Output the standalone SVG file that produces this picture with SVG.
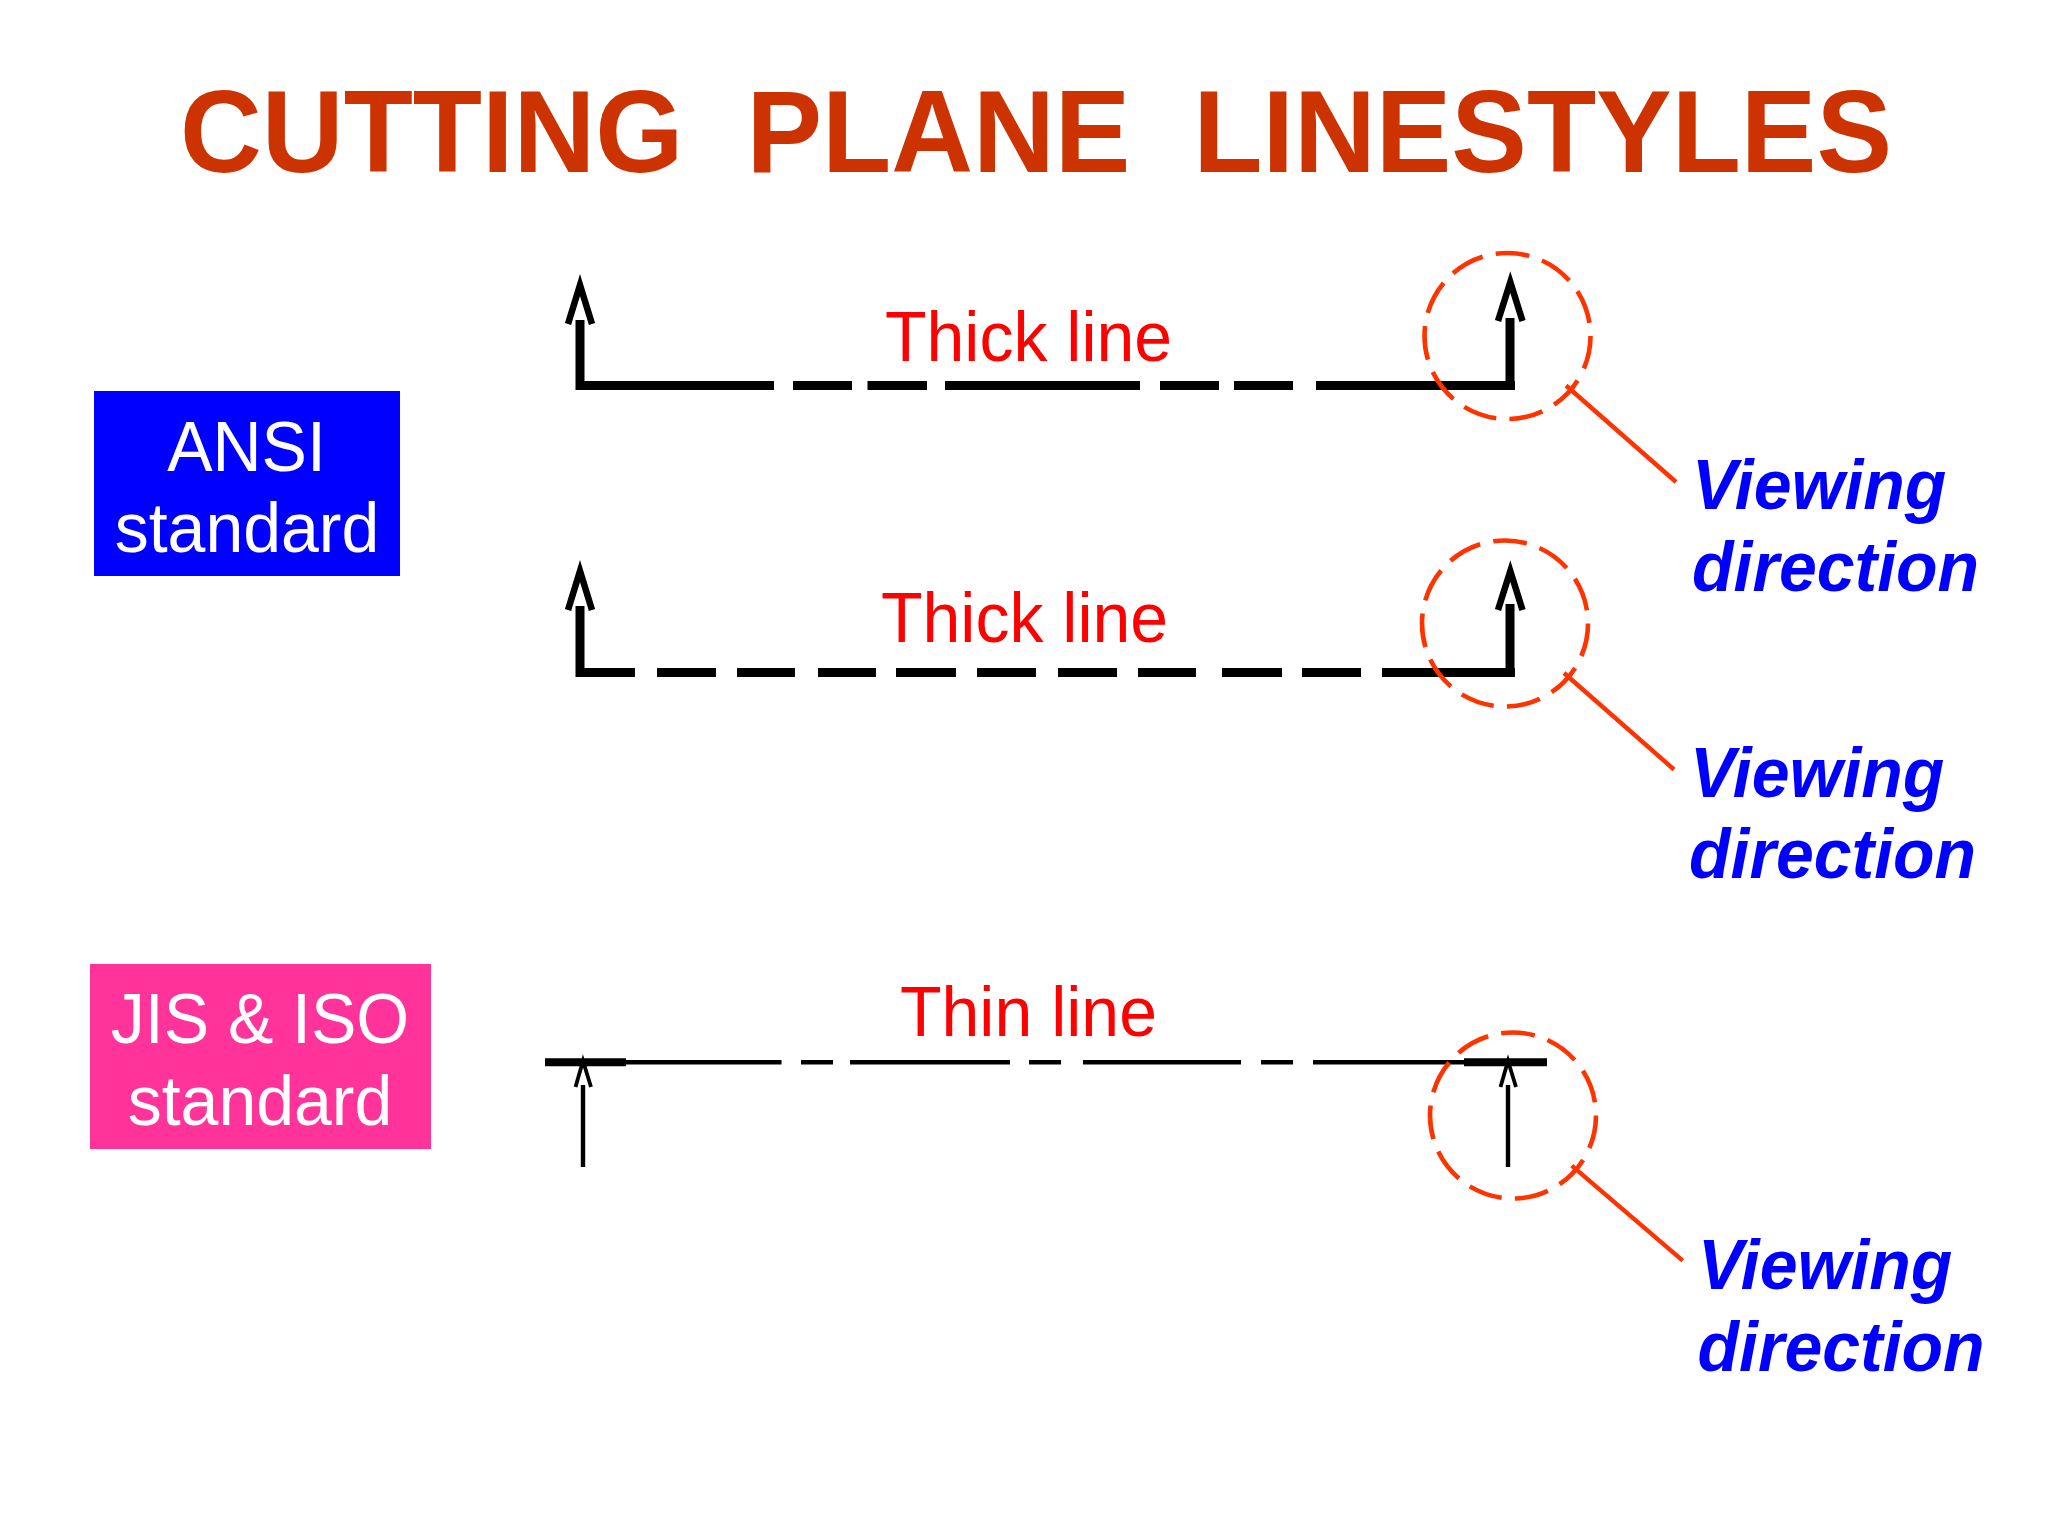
<svg xmlns="http://www.w3.org/2000/svg" width="2048" height="1536" viewBox="0 0 2048 1536">
<style>
text{font-family:"Liberation Sans",Arial,sans-serif;font-size:68px}
.title{font-size:113.3px;font-weight:700;fill:#cc3300;white-space:pre}
.red{fill:#ff0000}
.white{fill:#ffffff;text-anchor:middle}
.view{font-weight:700;font-style:italic;fill:#0000ff}
.thick{fill:none;stroke:#000;stroke-width:9}
.thin{fill:none;stroke:#000;stroke-width:4.4}
.head{fill:none;stroke:#000;stroke-width:6.5;stroke-miterlimit:20}
.headthin{fill:none;stroke:#000;stroke-width:3.8;stroke-miterlimit:20}
.ring{fill:none;stroke:#ff3300;stroke-width:4.6;stroke-dasharray:34 13.4;stroke-dashoffset:-378.6}
.lead{fill:none;stroke:#ff3300;stroke-width:4.4}
</style>
<rect width="2048" height="1536" fill="#fff"/>
<g id="title"><text class="title" transform="translate(180,171.5) scale(1,1.03)">CUTTING  PLANE  LINESTYLES</text></g>
<g id="ansi-box"><rect x="94" y="391" width="306" height="185" fill="#0000ff"/><text class="white" transform="translate(246.5,470.5) scale(1,1.04)">ANSI</text><text class="white" transform="translate(247,552) scale(1,1.04)">standard</text></g>
<g id="jis-box"><rect x="90" y="964" width="341" height="185" fill="#ff3399"/><text class="white" transform="translate(260,1043) scale(1,1.04)">JIS &amp; ISO</text><text class="white" transform="translate(260,1125) scale(1,1.04)">standard</text></g>
<g id="connectors">
<path class="thick" d="M576 385.5H774M793 385.5H852M867.5 385.5H927M945 385.5H1140M1160 385.5H1219M1234 385.5H1293M1316 385.5H1515M580 390V320M1510 390V318"/>
<polyline class="head" points="568,324 580,285 592,324"/>
<polyline class="head" points="1498,321 1510.3,282 1522.5,321"/>
<path class="thick" d="M576 672.5H635M657 672.5H716M737 672.5H795M818 672.5H876M896 672.5H956M977 672.5H1036M1058 672.5H1117M1138 672.5H1196M1222 672.5H1282M1302 672.5H1361M1382 672.5H1515M580 677V606M1510 677V604"/>
<polyline class="head" points="568,610 580,571 592,610"/>
<polyline class="head" points="1498,610 1510.3,571 1522.5,610"/>
<path class="thin" d="M626 1062.3H781.5M801 1062.3H833M850 1062.3H1010M1029 1062.3H1061M1083 1062.3H1241M1261 1062.3H1293M1313 1062.3H1464"/>
<path class="thick" style="stroke-width:8" d="M545 1062.3H626M1464 1062.3H1547"/>
<path class="thin" d="M583 1085V1167M1508 1085V1167"/>
<polyline class="headthin" points="575.5,1087 583,1061 591,1087"/>
<polyline class="headthin" points="1500.5,1087 1508,1061 1516,1087"/>
<circle class="ring" cx="1507.5" cy="336" r="83"/>
<line class="lead" x1="1566" y1="385.5" x2="1676" y2="482"/>
<circle class="ring" cx="1505" cy="623.5" r="83"/>
<line class="lead" x1="1564" y1="673" x2="1674" y2="769.5"/>
<circle class="ring" cx="1513" cy="1115.5" r="83"/>
<line class="lead" x1="1571.7" y1="1165.7" x2="1682.7" y2="1260.7"/>
</g>
<g id="label-thick-1"><text class="red" transform="translate(885,361) scale(1,1.04)">Thick line</text></g>
<g id="label-thick-2"><text class="red" transform="translate(881,641.5) scale(1,1.04)">Thick line</text></g>
<g id="label-thin"><text class="red" transform="translate(900,1036) scale(1,1.04)">Thin line</text></g>
<g id="view-1"><text class="view" transform="translate(1692,509) scale(1,1.04)">Viewing</text><text class="view" transform="translate(1692,590.5) scale(1,1.04)">direction</text></g>
<g id="view-2"><text class="view" transform="translate(1690,797) scale(1,1.04)">Viewing</text><text class="view" transform="translate(1689,878) scale(1,1.04)">direction</text></g>
<g id="view-3"><text class="view" transform="translate(1698,1289) scale(1,1.04)">Viewing</text><text class="view" transform="translate(1697.5,1370.5) scale(1,1.04)">direction</text></g>
</svg>
